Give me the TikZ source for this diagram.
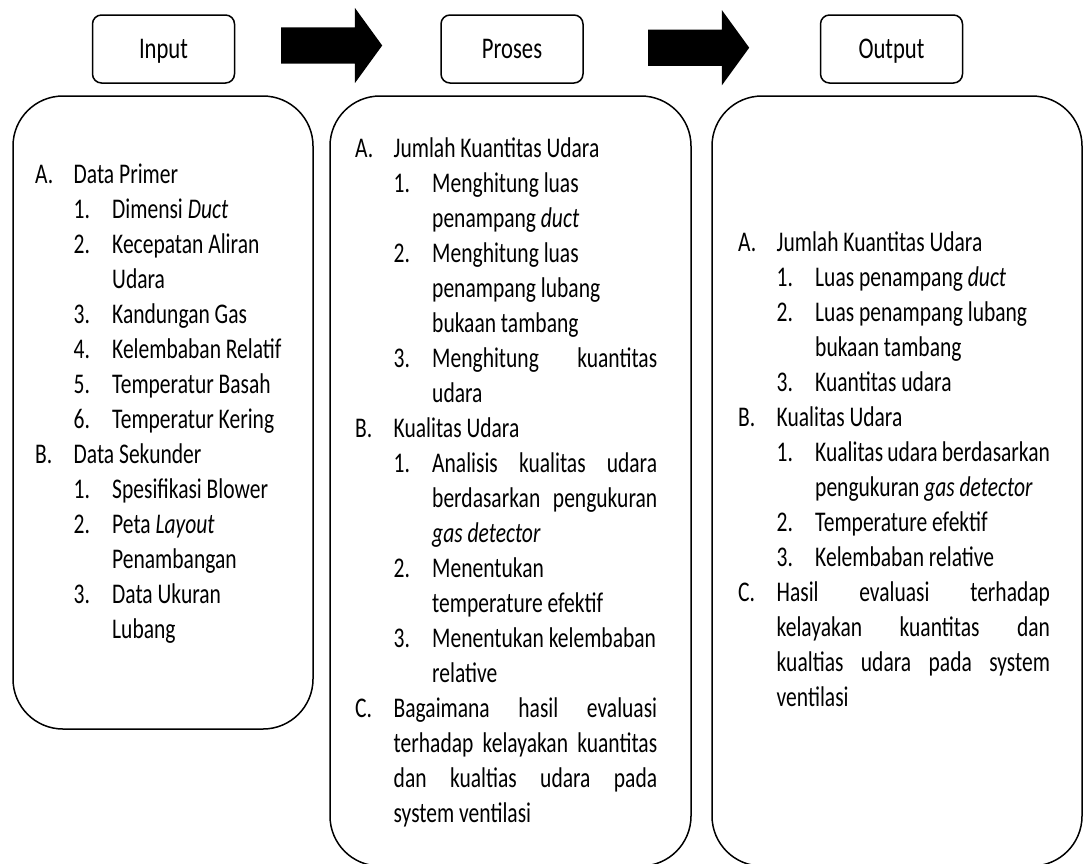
\documentclass[tikz,border=0pt]{standalone}
\usepackage{fontspec}
\setmainfont{Carlito}
\usepackage{graphicx}
\usetikzlibrary{shapes.arrows}

\newcommand{\narrow}[1]{\scalebox{0.755}[1]{#1}}
\newcommand{\listfont}{\fontsize{28.5}{35}\selectfont}
% rows of the lists: level 1 / level 2, ragged or justified
\newcommand{\rowa}[2]{\par\noindent\makebox[51pt][l]{#1}#2\par}
\newcommand{\rowb}[2]{\par\noindent\hspace*{51pt}\makebox[51pt][l]{#1}#2\par}
\newcommand{\rowaj}[2]{\par\noindent\makebox[51pt][l]{#1}\makebox[\dimexpr\linewidth-51pt\relax][s]{#2}\par}
\newcommand{\rowbj}[2]{\par\noindent\hspace*{51pt}\makebox[51pt][l]{#1}\makebox[\dimexpr\linewidth-102pt\relax][s]{#2}\par}

\begin{document}
\begin{tikzpicture}[
    x=1pt, y=-1pt,
    headbox/.style={draw, line width=1.5pt, rounded corners=9pt, minimum width=142pt, minimum height=68pt, font=\fontsize{30}{36}\selectfont, text height=19pt, text depth=0pt},
    bigbox/.style={draw, line width=1.5pt, rounded corners=50pt},
    flowarrow/.style={single arrow, fill=black, inner xsep=0pt, inner ysep=18pt, minimum height=101pt, single arrow head extend=19.5pt, single arrow tip angle=108, anchor=tail},
    listtext/.style={anchor=base west, inner sep=0pt, font=\listfont}
]
\useasboundingbox (0,0) rectangle (1083,863);

% Headers
\node[headbox] (input) at (163.5,49) {\narrow{Input}};
\node[headbox] (proses) at (512,49) {\narrow{Proses}};
\node[headbox] (output) at (891.5,49) {\narrow{Output}};

% Block arrows
\node[flowarrow] (arrA) at (281,45.5) {};
\node[flowarrow] (arrB) at (648,47.7) {};

% Big boxes
\node[bigbox, minimum width=300pt, minimum height=633pt] (inbox) at (163,412.5) {};
\node[bigbox, minimum width=361pt, minimum height=770pt] (procbox) at (510.5,481) {};
\node[bigbox, minimum width=370pt, minimum height=770pt] (outbox) at (897,481) {};

% Input list
\node[listtext] (intext) at (35,183) {\narrow{\parbox[t]{380pt}{%
\rowa{A.}{Data Primer}
\rowb{1.}{Dimensi \textit{Duct}}
\rowb{2.}{Kecepatan Aliran}
\rowb{}{Udara}
\rowb{3.}{Kandungan Gas}
\rowb{4.}{Kelembaban Relatif}
\rowb{5.}{Temperatur Basah}
\rowb{6.}{Temperatur Kering}
\rowa{B.}{Data Sekunder}
\rowb{1.}{Spesifikasi Blower}
\rowb{2.}{Peta \textit{Layout}}
\rowb{}{Penambangan}
\rowb{3.}{Data Ukuran}
\rowb{}{Lubang}}}};

% Proses list
\node[listtext] (proctext) at (355,157) {\narrow{\parbox[t]{400pt}{%
\rowa{A.}{Jumlah Kuantitas Udara}
\rowb{1.}{Menghitung luas}
\rowb{}{penampang \textit{duct}}
\rowb{2.}{Menghitung luas}
\rowb{}{penampang lubang}
\rowb{}{bukaan tambang}
\rowbj{3.}{Menghitung kuantitas}
\rowb{}{udara}
\rowa{B.}{Kualitas Udara}
\rowbj{1.}{Analisis kualitas udara}
\rowbj{}{berdasarkan pengukuran}
\rowb{}{\textit{gas detector}}
\rowb{2.}{Menentukan}
\rowb{}{temperature efektif}
\rowb{3.}{Menentukan kelembaban}
\rowb{}{relative}
\rowaj{C.}{Bagaimana hasil evaluasi}
\rowaj{}{terhadap kelayakan kuantitas}
\rowaj{}{dan kualtias udara pada}
\rowa{}{system ventilasi}}}};

% Output list
\node[listtext] (outtext) at (738,251) {\narrow{\parbox[t]{413pt}{%
\rowa{A.}{Jumlah Kuantitas Udara}
\rowb{1.}{Luas penampang \textit{duct}}
\rowb{2.}{Luas penampang lubang}
\rowb{}{bukaan tambang}
\rowb{3.}{Kuantitas udara}
\rowa{B.}{Kualitas Udara}
\rowb{1.}{Kualitas udara berdasarkan}
\rowb{}{pengukuran \textit{gas detector}}
\rowb{2.}{Temperature efektif}
\rowb{3.}{Kelembaban relative}
\rowaj{C.}{Hasil evaluasi terhadap}
\rowaj{}{kelayakan kuantitas dan}
\rowaj{}{kualtias udara pada system}
\rowa{}{ventilasi}}}};

\end{tikzpicture}
\end{document}
